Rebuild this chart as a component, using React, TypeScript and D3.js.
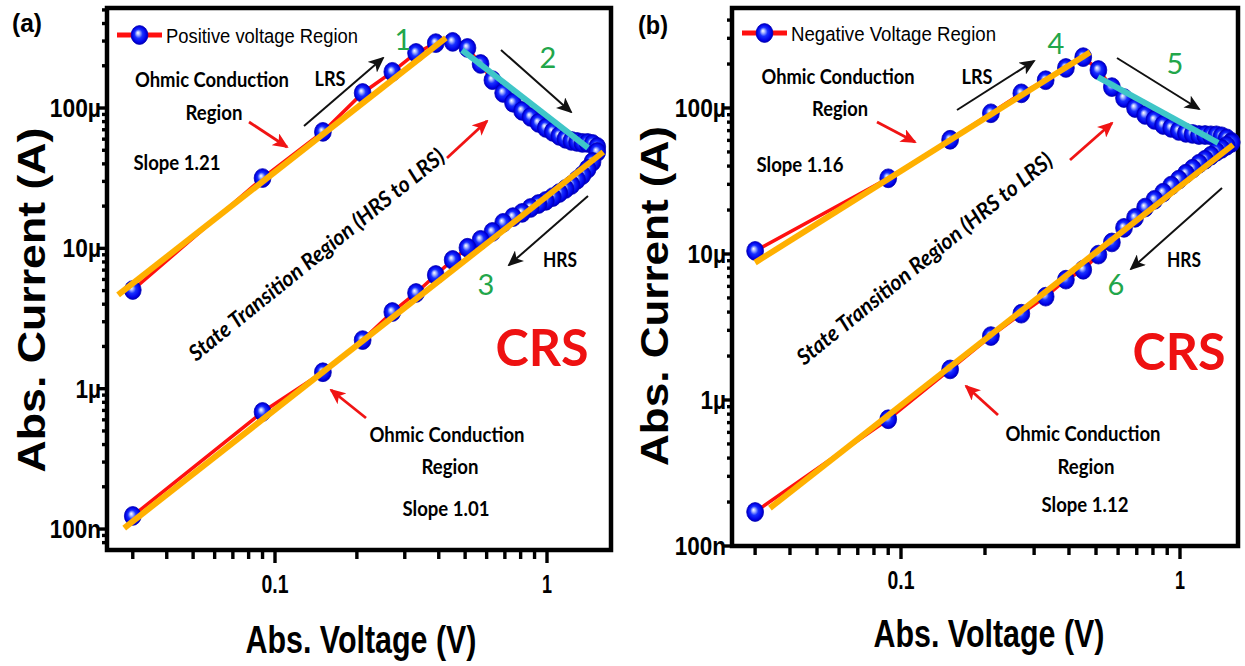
import React from 'react';
import * as d3 from 'd3';

// ---------- data (voltage in V, current in µA) ----------
const lrsVoltage = [0.03, 0.09, 0.15, 0.21, 0.27, 0.33, 0.39, 0.45];
const transitionVoltage = [0.51, 0.57, 0.63, 0.69, 0.75, 0.81, 0.87, 0.93, 0.99, 1.05, 1.11, 1.17, 1.23, 1.29, 1.35, 1.41, 1.47, 1.53];
const hrsVoltage = [0.03, 0.09, 0.15, 0.21, 0.27, 0.33, 0.39, 0.45, 0.51, 0.57, 0.63, 0.69, 0.75, 0.81, 0.87, 0.93, 0.99, 1.05, 1.11, 1.17, 1.23, 1.29, 1.35, 1.41, 1.47, 1.53];

const posLrsCurrent = [5.05, 31.7, 67.6, 128, 181, 247, 290, 296];
const posTransitionCurrent = [268, 206, 158, 128, 109, 95.4, 86.4, 78.3, 72.1, 67.6, 63.3, 60.3, 58.3, 57.3, 56.4, 56.4, 55.5, 52.8];
const posHrsCurrent = [0.124, 0.683, 1.31, 2.22, 3.52, 4.81, 6.46, 8.27, 10.1, 11.5, 13.1, 15.2, 16.7, 17.9, 19.4, 20.7, 21.8, 23.2, 24.8, 26.5, 28.3, 30.8, 33.3, 36.8, 41.3, 48.6];

const negLrsCurrent = [10.5, 33, 60.6, 92, 126, 155, 188, 223];
const negTransitionCurrent = [182, 139, 117, 100, 89.6, 82.8, 76.5, 73, 69.6, 67.5, 66.4, 65.3, 65.3, 65, 65, 64, 62, 58.6];
const negHrsCurrent = [0.171, 0.738, 1.62, 2.74, 3.9, 5.1, 6.67, 7.8, 9.9, 12, 15.1, 17.7, 20.8, 23.5, 26.3, 29.4, 32.3, 35.5, 38.4, 41.5, 44.2, 47.1, 50.1, 52.5, 55.1, 57.7];

// linear fits (endpoints)
const posFitLrsV = [0.0265, 0.425];
const posFitLrsI = [4.66, 316];
const posFitHrsV = [0.0279, 1.61];
const posFitHrsI = [0.1016, 48.6];
const posFitTransV = [0.487, 1.415];
const posFitTransI = [259, 52];
const negFitLrsV = [0.03, 0.476];
const negFitLrsI = [8.73, 241];
const negFitHrsV = [0.0339, 1.55];
const negFitHrsI = [0.182, 56];
const negFitTransV = [0.508, 1.37];
const negFitTransI = [163, 57.7];

const xTickValues = [0.1, 1];
const xTickLabels = ['0.1', '1'];
const yTickValues = [1e-7, 1e-6, 1e-5, 1e-4];
const yTickLabels = ['100n', '1µ', '10µ', '100µ'];

const legendLabels = ['Positive voltage Region', 'Negative Voltage Region'];

// ---------- helpers ----------
const sweep = (lrs: number[], tr: number[], hrs: number[]) => {
  const pts: [number, number][] = [];
  lrsVoltage.forEach((v, i) => pts.push([v, lrs[i] * 1e-6]));
  transitionVoltage.forEach((v, i) => pts.push([v, tr[i] * 1e-6]));
  for (let i = hrsVoltage.length - 1; i >= 0; i--) pts.push([hrsVoltage[i], hrs[i] * 1e-6]);
  return pts;
};
const fit = (v: number[], c: number[]) => v.map((x, i) => [x, c[i] * 1e-6] as [number, number]);

const RED = '#ff1010';
const ORANGE = '#ffb000';
const CYAN = '#3fc6c8';
const GREEN = '#22a64a';
const CAL = 'Lato, "Open Sans", sans-serif';
const ARIAL = '"Liberation Sans", Arial, sans-serif';
const NARROW = '"Liberation Sans Narrow", "Arial Narrow", "Liberation Sans", Arial, sans-serif';

type Ann = { t: string; x: number; y: number; w?: number; size?: number; fill?: string; weight?: number; family?: string };
type Arrow = { x1: number; y1: number; x2: number; y2: number; color: 'k' | 'r' };

const panels = [
  {
    key: 'a',
    label: '(a)', labelPos: [27, 23],
    left: 107, right: 611, top: 8, bottom: 550,
    xDomain: [0.02412, 1.719], yDomain: [7.09e-8, 5.16e-4],
    data: sweep(posLrsCurrent, posTransitionCurrent, posHrsCurrent),
    fits: [
      { pts: fit(posFitLrsV, posFitLrsI), color: ORANGE },
      { pts: fit(posFitHrsV, posFitHrsI), color: ORANGE },
      { pts: fit(posFitTransV, posFitTransI), color: CYAN },
    ],
    legend: { x1: 117, x2: 162, y: 35, tx: 166, tw: 192, text: legendLabels[0] },
    yTitle: { x: 31, y: 300, w: 345 },
    xTitle: { x: 361, y: 640, w: 231 },
    rot: { x: 316, y: 254 },
    ann: [
      { t: 'Ohmic Conduction', x: 212, y: 78, w: 154 },
      { t: 'Region', x: 214, y: 111, w: 57 },
      { t: 'Slope 1.21', x: 177, y: 161, w: 87 },
      { t: 'LRS', x: 330, y: 77, w: 31 },
      { t: 'HRS', x: 560, y: 258, w: 34 },
      { t: 'CRS', x: 542, y: 346, w: 93, size: 52, fill: '#ee1111' },
      { t: 'Ohmic Conduction', x: 447, y: 433, w: 155 },
      { t: 'Region', x: 450, y: 465, w: 57 },
      { t: 'Slope 1.01', x: 446, y: 507, w: 87 },
      { t: '1', x: 403, y: 38, size: 29, fill: GREEN, weight: 400 },
      { t: '2', x: 548, y: 56, size: 29, fill: GREEN, weight: 400 },
      { t: '3', x: 486, y: 283, size: 29, fill: GREEN, weight: 400 },
    ] as Ann[],
    arrows: [
      { x1: 304, y1: 126, x2: 383, y2: 58, color: 'k' },
      { x1: 249, y1: 122, x2: 287, y2: 147, color: 'r' },
      { x1: 501, y1: 50, x2: 571, y2: 112, color: 'k' },
      { x1: 447, y1: 158, x2: 487, y2: 121, color: 'r' },
      { x1: 588, y1: 196, x2: 509, y2: 265, color: 'k' },
      { x1: 366, y1: 418, x2: 331, y2: 390, color: 'r' },
    ] as Arrow[],
  },
  {
    key: 'b',
    label: '(b)', labelPos: [653, 25],
    left: 732, right: 1238, top: 8, bottom: 546,
    xDomain: [0.02479, 1.614], yDomain: [1e-7, 4.84e-4],
    data: sweep(negLrsCurrent, negTransitionCurrent, negHrsCurrent),
    fits: [
      { pts: fit(negFitLrsV, negFitLrsI), color: ORANGE },
      { pts: fit(negFitHrsV, negFitHrsI), color: ORANGE },
      { pts: fit(negFitTransV, negFitTransI), color: CYAN },
    ],
    legend: { x1: 742, x2: 787, y: 33, tx: 791, tw: 205, text: legendLabels[1] },
    yTitle: { x: 654, y: 296, w: 340 },
    xTitle: { x: 989, y: 634, w: 231 },
    rot: { x: 924, y: 258 },
    ann: [
      { t: 'Ohmic Conduction', x: 838, y: 75, w: 153 },
      { t: 'Region', x: 840, y: 107, w: 56 },
      { t: 'Slope 1.16', x: 800, y: 163, w: 87 },
      { t: 'LRS', x: 977, y: 75, w: 31 },
      { t: 'HRS', x: 1184, y: 258, w: 34 },
      { t: 'CRS', x: 1179, y: 350, w: 93, size: 52, fill: '#ee1111' },
      { t: 'Ohmic Conduction', x: 1083, y: 432, w: 155 },
      { t: 'Region', x: 1086, y: 465, w: 57 },
      { t: 'Slope 1.12', x: 1085, y: 503, w: 87 },
      { t: '4', x: 1056, y: 42, size: 29, fill: GREEN, weight: 400 },
      { t: '5', x: 1175, y: 62, size: 29, fill: GREEN, weight: 400 },
      { t: '6', x: 1116, y: 283, size: 29, fill: GREEN, weight: 400 },
    ] as Ann[],
    arrows: [
      { x1: 957, y1: 110, x2: 1034, y2: 61, color: 'k' },
      { x1: 877, y1: 122, x2: 915, y2: 142, color: 'r' },
      { x1: 1117, y1: 58, x2: 1199, y2: 109, color: 'k' },
      { x1: 1070, y1: 160, x2: 1112, y2: 123, color: 'r' },
      { x1: 1222, y1: 188, x2: 1131, y2: 269, color: 'k' },
      { x1: 998, y1: 415, x2: 966, y2: 386, color: 'r' },
    ] as Arrow[],
  },
];

const Ball = ({ cx, cy }: { cx: number; cy: number }) => (
  <ellipse cx={cx} cy={cy} rx={8.4} ry={9.4} fill="url(#ball)" stroke="#0000c0" strokeWidth={0.8} />
);

function Panel({ p }: { p: (typeof panels)[number] }) {
  const x = d3.scaleLog().domain(p.xDomain).range([p.left, p.right]);
  const y = d3.scaleLog().domain(p.yDomain).range([p.bottom, p.top]);
  const line = d3.line<[number, number]>().x((d) => x(d[0])).y((d) => y(d[1]));
  const xMinor = x.ticks().filter((t) => t >= p.xDomain[0] && t <= p.xDomain[1]);
  const yMinor = y.ticks().filter((t) => t >= p.yDomain[0] && t <= p.yDomain[1]);
  const isMajor = (t: number) => Math.abs(Math.log10(t) - Math.round(Math.log10(t))) < 1e-6;

  return (
    <g>
      {/* panel label */}
      <text x={p.labelPos[0]} y={p.labelPos[1]} fontFamily={ARIAL} fontWeight={700} fontSize={26}
        textAnchor="middle" dominantBaseline="central" textLength={30} lengthAdjust="spacingAndGlyphs">{p.label}</text>

      {/* frame */}
      <rect x={p.left} y={p.top} width={p.right - p.left} height={p.bottom - p.top}
        fill="none" stroke="#000" strokeWidth={4.5} />

      {/* y ticks */}
      {yMinor.map((t, i) => (
        <line key={'yt' + i} x1={p.left} x2={p.left - (isMajor(t) ? 9 : 5)} y1={y(t)} y2={y(t)}
          stroke="#000" strokeWidth={3.4} />
      ))}
      {/* x ticks */}
      {xMinor.map((t, i) => (
        <line key={'xt' + i} y1={p.bottom} y2={p.bottom + (isMajor(t) ? 13 : 9)} x1={x(t)} x2={x(t)}
          stroke="#000" strokeWidth={3.4} />
      ))}
      {yTickValues.map((t, i) => (
        <text key={'yl' + i} x={p.left - 6} y={y(t)} textAnchor="end" dominantBaseline="central"
          fontFamily={NARROW} fontWeight={700} fontSize={25}
          textLength={yTickLabels[i].length * 12.8} lengthAdjust="spacingAndGlyphs">{yTickLabels[i]}</text>
      ))}
      {xTickValues.map((t, i) => (
        <text key={'xl' + i} x={x(t)} y={p.bottom + 34} textAnchor="middle" dominantBaseline="central"
          fontFamily={NARROW} fontWeight={700} fontSize={25}
          {...(xTickLabels[i].length > 1 ? { textLength: 27, lengthAdjust: 'spacingAndGlyphs' } : { textLength: 10, lengthAdjust: 'spacingAndGlyphs' })}>{xTickLabels[i]}</text>
      ))}

      {/* axis titles */}
      <text transform={`translate(${p.yTitle.x},${p.yTitle.y}) rotate(-90)`} textAnchor="middle"
        dominantBaseline="central" fontFamily={ARIAL} fontWeight={700} fontSize={39}
        textLength={p.yTitle.w} lengthAdjust="spacingAndGlyphs">Abs. Current (A)</text>
      <text x={p.xTitle.x} y={p.xTitle.y} textAnchor="middle" dominantBaseline="central"
        fontFamily={NARROW} fontWeight={700} fontSize={38}
        textLength={p.xTitle.w} lengthAdjust="spacingAndGlyphs">Abs. Voltage (V)</text>

      {/* data */}
      <path d={line(p.data) || ''} fill="none" stroke={RED} strokeWidth={3.5} />
      {p.data.map((d, i) => <Ball key={'b' + i} cx={x(d[0])} cy={y(d[1])} />)}
      {p.fits.map((f, i) => (
        <path key={'f' + i} d={line(f.pts) || ''} fill="none" stroke={f.color} strokeWidth={6} />
      ))}

      {/* legend */}
      <line x1={p.legend.x1} x2={p.legend.x2} y1={p.legend.y} y2={p.legend.y} stroke={RED} strokeWidth={5} />
      <Ball cx={(p.legend.x1 + p.legend.x2) / 2} cy={p.legend.y} />
      <text x={p.legend.tx} y={p.legend.y} dominantBaseline="central" fontFamily={NARROW} fontSize={20.5}
        textLength={p.legend.tw} lengthAdjust="spacingAndGlyphs">{p.legend.text}</text>

      {/* annotations */}
      {p.ann.map((a, i) => (
        <text key={'a' + i} x={a.x} y={a.y} textAnchor="middle" dominantBaseline="central"
          fontFamily={a.family || CAL} fontWeight={a.weight ?? 700} fontSize={a.size || 21}
          fill={a.fill || '#000'}
          {...(a.w ? { textLength: a.w, lengthAdjust: 'spacingAndGlyphs' } : {})}>{a.t}</text>
      ))}
      <text transform={`translate(${p.rot.x},${p.rot.y}) rotate(-39)`} textAnchor="middle"
        dominantBaseline="central" fontFamily={CAL} fontStyle="italic" fontWeight={700} fontSize={22}
        textLength={322} lengthAdjust="spacingAndGlyphs">State Transition Region (HRS to LRS)</text>

      {p.arrows.map((a, i) => (
        <line key={'ar' + i} x1={a.x1} y1={a.y1} x2={a.x2} y2={a.y2}
          stroke={a.color === 'k' ? '#111' : '#f01414'} strokeWidth={a.color === 'k' ? 2 : 2.8}
          markerEnd={a.color === 'k' ? 'url(#arrK)' : 'url(#arrR)'} />
      ))}
    </g>
  );
}

export default function App() {
  return (
    <svg width={1245} height={666} viewBox="0 0 1245 666"
      style={{ position: 'absolute', left: 0, top: 0, background: '#fff' }}>
      <defs>
        <radialGradient id="ball" cx="50%" cy="50%" r="50%" fx="40%" fy="38%">
          <stop offset="0%" stopColor="#ffffff" />
          <stop offset="20%" stopColor="#aab8ff" />
          <stop offset="48%" stopColor="#1830ff" />
          <stop offset="85%" stopColor="#0000e6" />
          <stop offset="100%" stopColor="#0000a8" />
        </radialGradient>
        <marker id="arrK" markerUnits="userSpaceOnUse" markerWidth={16} markerHeight={14} refX={14} refY={7} orient="auto">
          <path d="M0,0 L16,7 L0,14 L4,7 z" fill="#111" />
        </marker>
        <marker id="arrR" markerUnits="userSpaceOnUse" markerWidth={16} markerHeight={14} refX={14} refY={7} orient="auto">
          <path d="M0,0 L16,7 L0,14 L4,7 z" fill="#f01414" />
        </marker>
      </defs>
      <rect x={0} y={0} width={1245} height={666} fill="#fff" />
      {panels.map((p) => <Panel key={p.key} p={p} />)}
    </svg>
  );
}
